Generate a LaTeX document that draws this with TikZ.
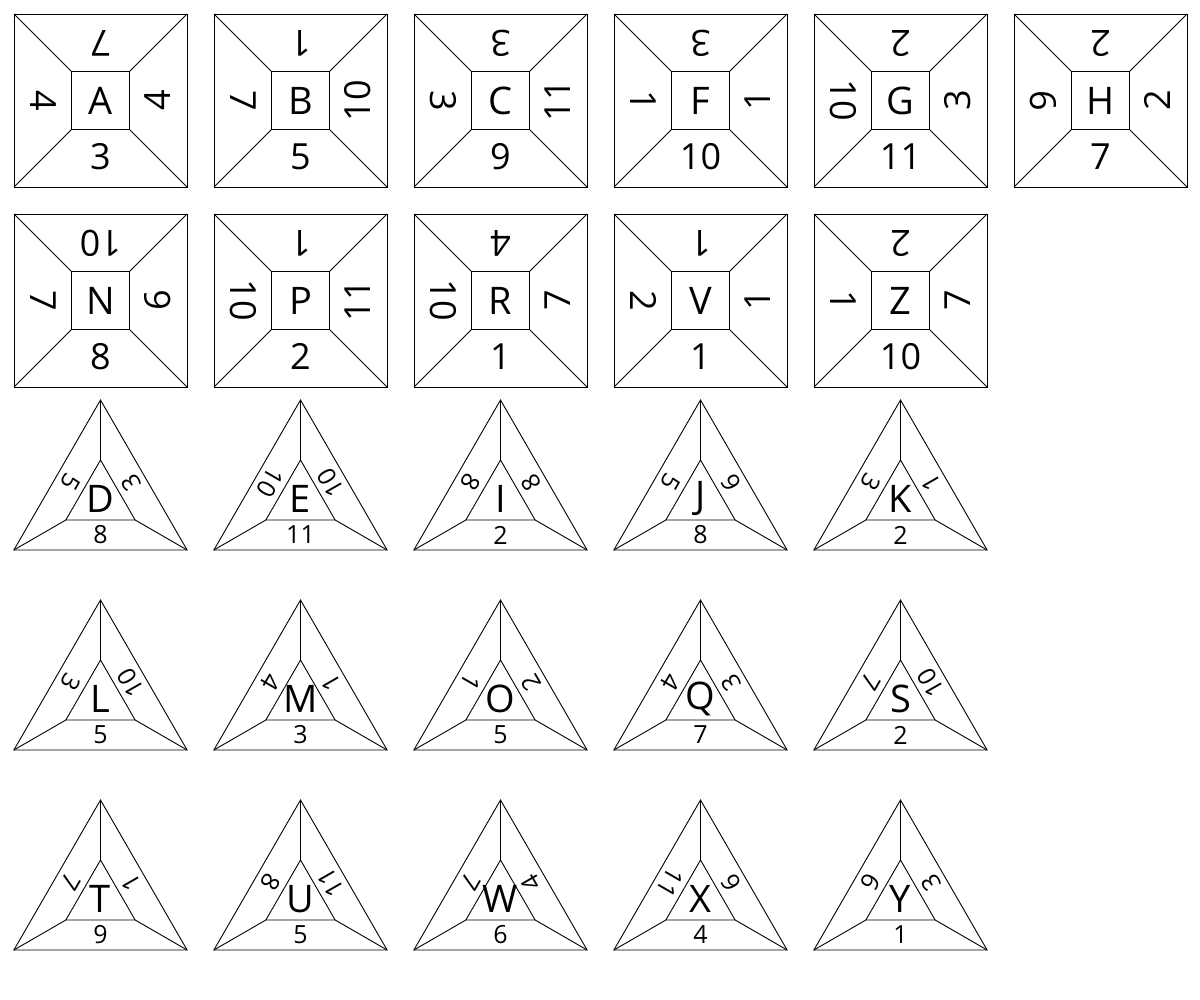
\documentclass[tikz,border=0pt]{standalone}
\usepackage{fontspec}
\setmainfont{Open Sans}
\newcommand{\sqtile}[7]{%
\begin{scope}[shift={(#1,#2)}]
\draw [black] (-86.5,-86.5) rectangle (86.5,86.5);
\draw [black] (-29,-29) rectangle (29,29);
\draw [black] (-86.5,-86.5) -- (-29,-29);
\draw [black] (86.5,-86.5) -- (29,-29);
\draw [black] (86.5,86.5) -- (29,29);
\draw [black] (-86.5,86.5) -- (-29,29);
\node [bigletter] (#3) at (0,0) {#3};
\node [sqnum,rotate=180] (#3t) at (0,-57) {#4};
\node [sqnum,rotate=90] (#3r) at (57,0) {#5};
\node [sqnum] (#3b) at (0,56) {#6};
\node [sqnum,rotate=-90] (#3l) at (-57,0) {#7};
\end{scope}}
\newcommand{\tritile}[6]{%
\begin{scope}[shift={(#1,#2)}]
\draw [black] (0,-100) -- (-86.6,50) -- (86.6,50) -- cycle;
\draw [black] (0,-40) -- (-34.64,20) -- (34.64,20) -- cycle;
\draw [black] (0,-100) -- (0,-40);
\draw [black] (-86.6,50) -- (-34.64,20);
\draw [black] (86.6,50) -- (34.64,20);
\node [bigletter] (#3) at (0,-1) {#3};
\node [trinum,rotate=-120] (#3l) at (-30.3,-17.5) {#4};
\node [trinum,rotate=120] (#3r) at (30.3,-17.5) {#5};
\node [trinum] (#3b) at (0,35) {#6};
\end{scope}}
\begin{document}
\begin{tikzpicture}[x=1pt,y=-1pt,line width=0.9pt,
  bigletter/.style={font=\fontsize{38}{38}\selectfont},
  sqnum/.style={font=\fontsize{36}{36}\selectfont},
  trinum/.style={font=\fontsize{25}{25}\selectfont}]
\tikzstyle{every node}+=[inner sep=0pt]
\useasboundingbox (0,0) rectangle (1200,1000);
% squares, top row
\sqtile{100.5}{100.5}{A}{7}{4}{3}{4}
\sqtile{300.5}{100.5}{B}{1}{10}{5}{7}
\sqtile{500.5}{100.5}{C}{3}{11}{9}{3}
\sqtile{700.5}{100.5}{F}{3}{1}{10}{1}
\sqtile{900.5}{100.5}{G}{2}{3}{11}{10}
\sqtile{1100.5}{100.5}{H}{2}{2}{7}{6}
% squares, second row
\sqtile{100.5}{300.5}{N}{10}{6}{8}{7}
\sqtile{300.5}{300.5}{P}{1}{11}{2}{10}
\sqtile{500.5}{300.5}{R}{4}{7}{1}{10}
\sqtile{700.5}{300.5}{V}{1}{1}{1}{2}
\sqtile{900.5}{300.5}{Z}{2}{7}{10}{1}
% triangles
\tritile{100.5}{500}{D}{5}{3}{8}
\tritile{300.5}{500}{E}{10}{10}{11}
\tritile{500.5}{500}{I}{8}{8}{2}
\tritile{700.5}{500}{J}{5}{6}{8}
\tritile{900.5}{500}{K}{3}{1}{2}
\tritile{100.5}{700}{L}{3}{10}{5}
\tritile{300.5}{700}{M}{4}{1}{3}
\tritile{500.5}{700}{O}{1}{2}{5}
\tritile{700.5}{700}{Q}{4}{3}{7}
\tritile{900.5}{700}{S}{7}{10}{2}
\tritile{100.5}{900}{T}{7}{1}{9}
\tritile{300.5}{900}{U}{8}{11}{5}
\tritile{500.5}{900}{W}{7}{4}{6}
\tritile{700.5}{900}{X}{11}{6}{4}
\tritile{900.5}{900}{Y}{6}{3}{1}
\end{tikzpicture}
\end{document}
